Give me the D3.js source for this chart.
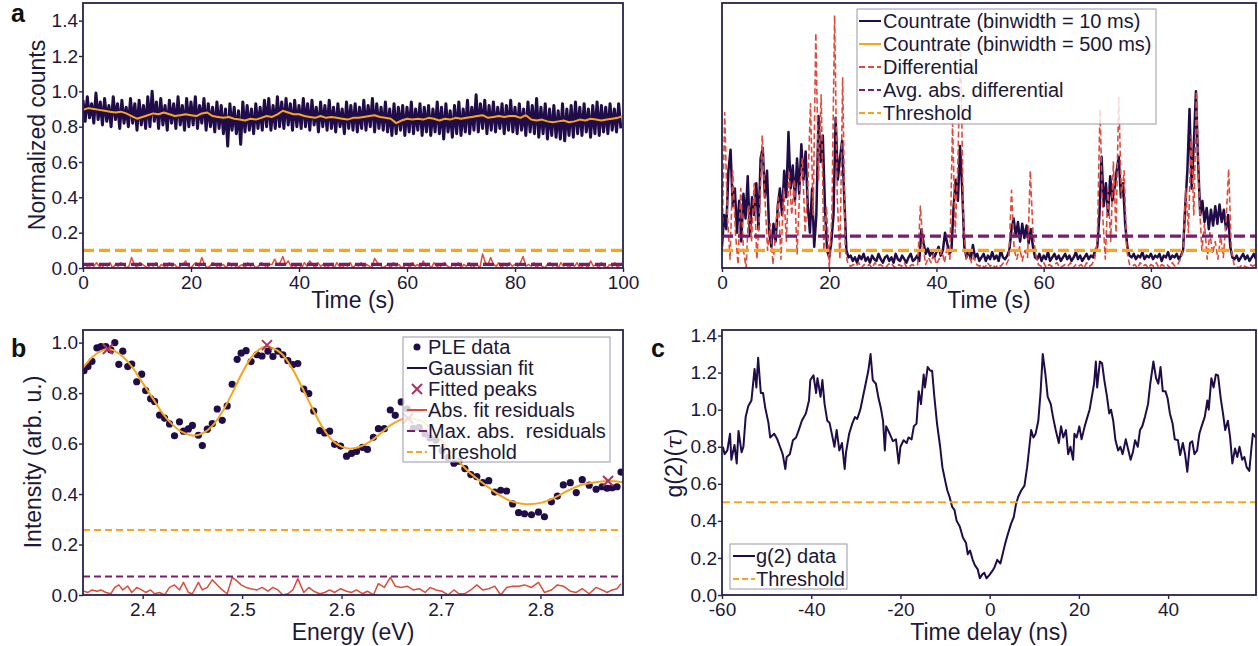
<!DOCTYPE html>
<html>
<head>
<meta charset="utf-8">
<script src="https://cdn.jsdelivr.net/npm/d3@7"></script>
<style>
  body { margin: 0; background: #fff; }
  svg { display: block; font-family: "Liberation Sans", Arial, sans-serif; }
</style>
</head>
<body>
<svg id="chart" width="1258" height="646"></svg>
<script>
/**
 * Blinking / PLE / g2 screening figure (panels a, b, c)
 */

// ---- Panel a (left): stable emitter, 10 ms bins sampled every 0.4 s ----
const stableCountStep = 0.4;
const stableCounts = [
  0.95,0.83,0.97,0.85,0.93,0.82,0.99,0.84,0.94,0.81,
  0.96,0.83,0.92,0.80,0.97,0.84,0.93,0.79,0.95,0.82,
  0.91,0.80,0.96,0.82,0.93,0.78,0.95,0.81,0.92,0.79,
  0.97,0.80,1.00,0.83,0.94,0.79,0.96,0.81,0.92,0.78,
  0.95,0.82,0.93,0.79,0.97,0.81,0.92,0.78,0.96,0.80,
  0.94,0.81,0.97,0.79,0.92,0.82,0.96,0.78,0.93,0.80,
  0.91,0.77,0.94,0.79,0.92,0.76,0.90,0.69,0.93,0.78,
  0.91,0.76,0.89,0.70,0.94,0.77,0.92,0.78,0.90,0.76,
  0.93,0.79,0.91,0.78,0.95,0.80,0.96,0.78,0.92,0.79,
  0.97,0.80,0.94,0.79,0.96,0.81,0.93,0.78,0.95,0.80,
  0.92,0.79,0.96,0.80,0.93,0.78,0.95,0.81,0.91,0.77,
  0.94,0.80,0.92,0.78,0.95,0.79,0.91,0.77,0.93,0.80,
  0.90,0.76,0.94,0.79,0.92,0.78,0.93,0.77,0.91,0.79,
  0.95,0.78,0.92,0.80,0.96,0.77,0.93,0.79,0.91,0.78,
  0.94,0.77,0.90,0.75,0.93,0.76,0.91,0.78,0.92,0.75,
  0.91,0.77,0.94,0.76,0.90,0.78,0.93,0.75,0.91,0.77,
  0.92,0.75,0.90,0.77,0.94,0.76,0.91,0.73,0.93,0.77,
  0.89,0.74,0.92,0.76,0.94,0.75,0.90,0.77,0.95,0.76,
  0.91,0.78,0.98,0.77,0.93,0.79,0.95,0.76,0.92,0.78,
  0.94,0.77,0.91,0.79,0.93,0.76,0.92,0.78,0.95,0.77,
  0.91,0.76,0.93,0.78,0.90,0.75,0.94,0.77,0.92,0.76,
  0.96,0.74,0.91,0.76,0.93,0.73,0.90,0.75,0.92,0.74,
  0.89,0.73,0.93,0.72,0.90,0.75,0.92,0.74,0.94,0.76,
  0.91,0.75,0.93,0.77,0.90,0.74,0.92,0.76,0.94,0.75,
  0.92,0.77,0.91,0.76,0.93,0.78,0.90,0.77,0.93,0.79
];
// 500 ms bins, plotted every 1 s
const stableSmoothStep = 1;
const stableSmooth = [
  0.895,0.905,0.900,0.895,0.890,0.885,0.880,0.885,0.875,0.860,0.845,0.855,0.865,0.875,0.870,0.880,0.870,0.860,0.865,0.870,
  0.865,0.860,0.875,0.880,0.860,0.855,0.850,0.855,0.845,0.840,0.835,0.845,0.840,0.850,0.860,0.855,0.870,0.890,0.880,0.870,
  0.870,0.860,0.855,0.850,0.860,0.850,0.855,0.850,0.845,0.840,0.850,0.850,0.855,0.860,0.865,0.855,0.850,0.845,0.820,0.835,
  0.845,0.840,0.845,0.840,0.850,0.845,0.835,0.845,0.840,0.850,0.845,0.850,0.855,0.860,0.865,0.850,0.855,0.860,0.855,0.860,
  0.860,0.850,0.865,0.840,0.835,0.840,0.830,0.825,0.830,0.835,0.825,0.830,0.840,0.835,0.845,0.840,0.835,0.840,0.845,0.850,0.860
];
const stableDiffStep = 0.5;
const stableDiff = [
  0.01,0.02,0.00,0.02,0.01,0.03,0.01,0.00,0.02,0.01,0.03,0.00,0.02,0.01,0.03,0.02,0.00,0.01,0.06,0.02,
  0.00,0.03,0.02,0.01,0.00,0.02,0.01,0.03,0.00,0.02,0.01,0.00,0.03,0.01,0.02,0.00,0.01,0.02,0.04,0.01,
  0.00,0.02,0.03,0.01,0.06,0.02,0.00,0.01,0.03,0.02,0.00,0.01,0.02,0.00,0.03,0.01,0.02,0.00,0.01,0.02,
  0.00,0.03,0.01,0.02,0.00,0.01,0.03,0.02,0.00,0.02,0.02,0.05,0.02,0.03,0.065,0.02,0.04,0.01,0.00,0.01,
  0.02,0.00,0.03,0.01,0.04,0.02,0.00,0.03,0.01,0.02,0.00,0.01,0.02,0.00,0.03,0.01,0.00,0.02,0.01,0.03,
  0.00,0.02,0.01,0.03,0.00,0.02,0.01,0.00,0.055,0.03,0.02,0.00,0.01,0.02,0.00,0.03,0.01,0.02,0.00,0.01,
  0.02,0.00,0.03,0.01,0.02,0.00,0.04,0.01,0.02,0.00,0.03,0.01,0.00,0.02,0.03,0.01,0.00,0.02,0.01,0.03,
  0.00,0.02,0.01,0.03,0.00,0.01,0.02,0.00,0.08,0.03,0.02,0.06,0.02,0.01,0.03,0.00,0.02,0.01,0.03,0.01,
  0.02,0.01,0.03,0.065,0.01,0.02,0.01,0.03,0.00,0.02,0.01,0.00,0.02,0.03,0.01,0.02,0.00,0.03,0.01,0.02,
  0.00,0.02,0.01,0.03,0.00,0.01,0.02,0.00,0.04,0.01,0.02,0.00,0.03,0.01,0.00,0.02,0.01,0.03,0.00,0.02
];
const stableAvgDiff = 0.021;
const stableThreshold = 0.1;

// ---- Panel a (right): blinking emitter ----
const blinkCountStep = 0.4;
const blinkCounts = [
  0.12,0.30,0.22,0.55,0.67,0.35,0.45,0.20,0.38,0.15,
  0.42,0.28,0.52,0.18,0.40,0.30,0.48,0.22,0.62,0.68,
  0.40,0.55,0.20,0.12,0.25,0.15,0.35,0.45,0.30,0.55,
  0.40,0.77,0.45,0.58,0.38,0.62,0.42,0.70,0.50,0.66,
  0.35,0.20,0.45,0.12,0.30,0.86,0.60,0.75,0.35,0.10,
  0.06,0.15,0.30,0.85,0.50,0.62,0.72,0.40,0.10,0.06,
  0.07,0.04,0.06,0.03,0.07,0.05,0.08,0.04,0.06,0.03,0.07,0.05,0.04,0.08,0.05,0.03,0.06,
  0.07,0.04,0.06,0.03,0.08,0.05,0.04,0.07,0.05,0.03,0.06,0.08,0.04,0.05,0.07,0.04,
  0.22,0.14,0.08,0.11,0.07,0.10,0.06,0.09,0.12,0.07,0.10,0.20,0.14,0.08,0.10,
  0.35,0.50,0.38,0.69,0.45,0.12,0.06,0.10,0.05,0.13,0.06,0.08,0.04,
  0.06,0.08,0.04,0.07,0.05,0.09,0.05,0.07,0.04,0.10,0.06,0.05,0.07,
  0.10,0.22,0.28,0.18,0.26,0.15,0.25,0.17,0.24,0.14,0.22,0.12,0.06,
  0.05,0.08,0.04,0.07,0.05,0.09,0.04,0.06,0.08,0.05,0.07,0.04,0.06,0.08,
  0.05,0.07,0.04,0.06,0.09,0.05,0.07,0.04,0.06,0.08,0.05,0.07,0.06,0.10,
  0.12,0.30,0.63,0.35,0.48,0.30,0.52,0.38,0.45,0.55,0.63,0.40,0.48,0.25,0.12,0.07,
  0.06,0.08,0.05,0.07,0.06,0.09,0.05,0.07,0.06,0.08,0.05,0.07,
  0.06,0.08,0.04,0.07,0.06,0.09,0.05,0.07,0.06,0.08,0.05,0.07,
  0.10,0.35,0.55,0.90,0.45,0.70,1.00,0.60,0.30,0.38,0.26,0.34,
  0.22,0.33,0.24,0.35,0.25,0.36,0.26,0.33,0.22,0.30,0.12,0.06,
  0.05,0.07,0.04,0.06,0.08,0.05,0.07,0.04,0.06,0.08,0.05
];
const blinkDiffStep = 0.5;
const blinkDiff = [
  0.10,0.88,0.30,0.05,0.55,0.20,0.02,0.45,0.10,0.00,0.35,0.15,0.48,0.05,0.30,0.75,0.40,0.10,0.25,0.02,
  0.20,0.40,0.05,0.45,0.15,0.55,0.30,0.50,0.08,0.45,0.62,0.20,0.45,0.93,0.30,1.33,0.50,0.98,0.10,0.35,
  0.00,0.30,1.43,0.40,0.05,1.08,0.10,0.02,0.01,0.02,
  0.01,0.03,0.00,0.02,0.01,0.02,0.00,0.03,0.01,0.02,0.01,0.00,0.02,0.03,0.01,0.00,0.02,0.01,0.03,0.00,0.01,0.02,0.01,0.02,
  0.35,0.12,0.02,0.06,0.03,0.08,0.02,0.05,0.10,0.03,0.12,0.05,0.82,0.20,0.60,1.29,0.30,0.05,0.10,0.03,0.06,0.02,0.01,
  0.02,0.00,0.03,0.01,0.02,0.00,0.02,0.01,0.03,0.02,0.05,
  0.44,0.10,0.05,0.12,0.04,0.10,0.06,0.55,0.20,0.08,0.02,
  0.01,0.03,0.00,0.02,0.01,0.02,0.03,0.00,0.01,0.02,0.01,0.03,0.00,0.02,0.01,0.02,0.00,0.03,0.01,0.02,0.05,
  0.15,0.90,0.30,0.05,0.45,0.15,0.60,0.20,0.97,0.40,0.55,0.10,0.02,
  0.01,0.02,0.00,0.03,0.01,0.02,0.00,0.02,0.01,0.03,0.00,0.02,0.01,0.02,0.00,0.03,0.01,0.02,0.05,0.10,
  0.45,0.20,0.75,0.30,1.00,0.40,0.10,0.25,0.05,0.20,0.08,0.15,0.05,0.18,0.06,0.25,0.56,0.10,0.02,
  0.01,0.00,0.02,0.01,0.00,0.02,0.01,0.02
];
const blinkAvgDiff = 0.18;
const blinkThreshold = 0.1;

// ---- Panel b: PLE spectrum ----
const pleEnergy = [
  2.341,2.345,2.349,2.354,2.358,2.363,2.368,2.372,2.376,2.380,2.385,2.389,2.394,2.399,2.403,2.408,2.412,2.417,2.422,2.427,
  2.432,2.437,2.441,2.446,2.450,2.456,2.460,2.465,2.470,2.475,2.480,2.485,2.490,2.495,2.499,2.504,2.509,2.515,2.520,2.526,
  2.531,2.536,2.541,2.546,2.551,2.556,2.562,2.567,2.572,2.578,2.583,2.588,2.593,2.599,2.605,2.610,2.615,2.621,2.626,2.632,
  2.637,2.643,2.649,2.654,2.660,2.666,2.672,2.678,2.684,2.689,2.695,2.701,2.707,2.713,2.718,2.724,2.730,2.736,2.742,2.748,
  2.754,2.760,2.766,2.772,2.778,2.784,2.791,2.798,2.804,2.811,2.817,2.823,2.830,2.836,2.842,2.849,2.856,2.862,2.867,2.872,
  2.877,2.881
];
const pleIntensity = [
  0.889,0.905,0.926,0.979,0.984,0.984,0.971,1.000,0.914,0.966,0.905,0.915,0.845,0.875,0.810,0.778,0.767,0.713,0.701,0.678,
  0.631,0.686,0.649,0.658,0.672,0.633,0.592,0.657,0.679,0.737,0.692,0.749,0.835,0.934,0.958,0.968,0.925,0.952,0.947,0.966,
  0.945,0.966,0.952,0.929,0.913,0.917,0.816,0.798,0.729,0.651,0.642,0.649,0.597,0.590,0.550,0.561,0.569,0.585,0.577,0.625,
  0.659,0.659,0.733,0.712,0.765,0.738,0.660,0.664,0.638,0.622,0.614,0.572,0.545,0.522,0.530,0.501,0.477,0.469,0.445,0.453,
  0.408,0.415,0.412,0.361,0.326,0.322,0.318,0.328,0.310,0.369,0.392,0.436,0.445,0.406,0.457,0.435,0.419,0.429,0.423,0.425,
  0.429,0.487
];
const pleResiduals = [
  0.015,0.01,0.02,0.015,0.02,0.01,0.005,0.03,0.04,0.02,
  0.035,0.01,0.03,0.02,0.01,0.02,0.005,0.01,0.0,0.03,
  0.04,0.02,0.05,0.01,0.005,0.05,0.02,0.03,0.06,0.04,
  0.02,0.005,0.07,0.055,0.04,0.03,0.025,0.02,0.03,0.015,
  0.03,0.02,0.0,0.005,0.02,0.065,0.01,0.03,0.015,0.005,
  0.01,0.02,0.01,0.025,0.015,0.01,0.02,0.005,0.015,0.0,
  0.045,0.03,0.07,0.035,0.03,0.035,0.02,0.025,0.01,0.03,
  0.02,0.015,0.0,0.02,0.005,0.005,0.02,0.04,0.02,0.025,
  0.035,0.0,0.03,0.035,0.035,0.04,0.03,0.05,0.01,0.02,
  0.04,0.035,0.015,0.01,0.025,0.005,0.03,0.02,0.01,0.02,
  0.025,0.045
];
const fitEnergy = [
  2.34,2.35,2.36,2.365,2.37,2.38,2.39,2.40,2.41,2.42,2.43,2.44,2.45,2.46,2.47,2.48,2.49,2.50,2.51,2.52,
  2.525,2.53,2.54,2.55,2.56,2.57,2.58,2.59,2.60,2.61,2.62,2.63,2.64,2.65,2.665,2.68,2.69,2.70,2.71,2.72,
  2.73,2.74,2.75,2.76,2.77,2.785,2.80,2.81,2.82,2.83,2.84,2.855,2.87,2.883
];
const fitIntensity = [
  0.90,0.945,0.97,0.975,0.97,0.945,0.90,0.84,0.78,0.72,0.675,0.645,0.632,0.64,0.67,0.725,0.80,0.88,0.945,0.98,
  0.985,0.98,0.955,0.90,0.825,0.745,0.67,0.615,0.588,0.58,0.59,0.612,0.643,0.675,0.70,0.69,0.66,0.615,0.565,0.52,
  0.48,0.45,0.42,0.393,0.372,0.36,0.365,0.378,0.398,0.418,0.435,0.447,0.452,0.447
];
const peakEnergy = [2.365, 2.525, 2.667, 2.868];
const peakIntensity = [0.975, 0.99, 0.70, 0.452];
const pleMaxResidual = 0.073;
const pleThreshold = 0.258;

// ---- Panel c: second-order correlation ----
const g2Delay = [
  -59.8,-59.4,-58.8,-58.2,-57.9,-57.2,-56.7,-56.3,-55.6,-55.2,-54.7,-54.1,-53.4,-52.7,-52.3,-51.9,-51.3,-50.8,-50.3,-49.6,
  -49.2,-48.3,-47.6,-47.0,-46.4,-45.8,-45.5,-44.8,-44.1,-43.4,-42.8,-42.1,-41.2,-40.5,-40.2,-39.5,-38.9,-38.6,-37.9,-37.5,
  -37.0,-36.4,-35.9,-35.3,-34.8,-34.3,-33.7,-33.1,-32.5,-32.2,-31.5,-30.8,-30.2,-29.7,-29.0,-28.4,-27.8,-27.2,-26.7,-26.2,
  -25.5,-24.9,-24.4,-23.9,-23.5,-23.2,-22.4,-21.7,-21.0,-20.4,-20.0,-19.3,-18.6,-18.2,-17.5,-17.0,-16.4,-15.9,-15.4,-14.8,
  -14.5,-13.9,-13.3,-12.9,-12.4,-11.8,-11.1,-10.6,-10.0,-9.5,-9.0,-8.4,-7.9,-7.4,-6.7,-6.0,-5.3,-4.9,-4.4,-3.8,
  -3.3,-2.7,-2.2,-1.7,-1.2,-0.7,0.0,0.6,1.1,1.7,2.4,2.9,3.5,4.1,4.8,5.4,5.9,6.4,7.1,7.8,
  8.4,8.9,9.3,9.8,10.3,10.9,11.4,11.9,12.5,13.0,13.7,14.2,14.8,15.5,16.0,16.5,17.1,17.6,18.1,18.7,
  19.0,19.5,20.1,20.6,21.3,21.9,22.4,22.9,23.4,23.8,24.1,24.7,25.2,25.7,26.3,26.8,27.2,27.7,28.2,28.8,
  29.3,29.8,30.5,31.1,31.6,32.1,32.6,33.2,33.7,34.2,34.8,35.5,36.0,36.7,37.3,37.8,38.3,38.8,39.4,39.9,
  40.4,41.0,41.5,42.2,42.7,43.3,43.8,44.3,44.9,45.4,45.9,46.5,47.0,47.5,48.2,48.8,49.1,49.7,50.2,50.7,
  51.2,51.8,52.3,52.8,53.4,53.9,54.4,55.0,55.5,56.0,56.6,57.1,57.6,58.2,58.7,59.0,59.6
];
const g2Value = [
  0.80,0.76,0.78,0.87,0.73,0.81,0.71,0.885,0.77,0.80,0.96,1.02,1.05,1.22,1.12,1.28,1.09,1.09,1.01,0.93,
  0.85,0.87,0.84,0.80,0.76,0.68,0.745,0.76,0.835,0.85,0.89,0.94,0.98,1.05,1.16,1.185,1.09,1.17,1.07,1.16,
  1.03,0.94,0.93,0.86,0.80,0.89,0.78,0.82,0.68,0.77,0.87,0.925,0.96,0.95,1.0,1.07,1.14,1.21,1.30,1.16,
  1.14,1.06,1.01,0.94,0.78,0.91,0.87,0.83,0.84,0.71,0.80,0.835,0.82,0.85,0.84,0.91,0.925,1.10,1.03,1.19,
  1.12,1.23,1.21,1.21,1.07,0.925,0.80,0.69,0.62,0.565,0.53,0.475,0.46,0.40,0.37,0.31,0.28,0.22,0.24,0.19,
  0.16,0.14,0.09,0.11,0.12,0.09,0.11,0.13,0.15,0.19,0.17,0.22,0.28,0.33,0.385,0.42,0.49,0.53,0.565,0.59,
  0.69,0.80,0.89,0.85,0.87,0.94,1.09,1.30,1.19,1.07,1.03,0.96,0.89,0.82,0.91,0.85,0.89,0.76,0.80,0.73,
  0.87,0.85,0.91,0.84,0.91,0.96,1.0,1.07,1.14,1.26,1.12,1.26,1.25,1.16,1.07,0.98,1.0,0.94,0.835,0.78,
  0.80,0.76,0.84,0.78,0.73,0.77,0.835,0.80,0.89,0.91,0.96,1.03,1.14,1.26,1.17,1.14,1.23,1.10,1.10,1.06,
  0.98,0.925,0.84,0.835,0.755,0.82,0.76,0.665,0.82,0.83,0.76,0.78,0.87,0.91,0.96,1.05,1.0,1.17,1.12,1.19,
  1.185,1.06,0.98,0.89,0.94,0.85,0.71,0.79,0.745,0.80,0.73,0.745,0.69,0.67,0.80,0.87,0.85
];
const g2Threshold = 0.5;

// ---- Tick values ----
const countTicksY = [0, 0.2, 0.4, 0.6, 0.8, 1.0, 1.2, 1.4];
const timeTicksLeft = [0, 20, 40, 60, 80, 100];
const timeTicksRight = [0, 20, 40, 60, 80];
const energyTicks = [2.4, 2.5, 2.6, 2.7, 2.8];
const intensityTicks = [0, 0.2, 0.4, 0.6, 0.8, 1.0];
const delayTicks = [-60, -40, -20, 0, 20, 40];
const g2Ticks = [0, 0.2, 0.4, 0.6, 0.8, 1.0, 1.2, 1.4];

// ---- Styling ----
const COLORS = {
    dark: '#1f0c48',
    orange: '#f9a51b',
    red: '#e04a3b',
    purple: '#7b1d6c',
    cross: '#b0305e',
    text: '#1b1838',
    frame: '#27224a'
};
const TICK_FONT = 19;
const TITLE_FONT = 23;
const LEGEND_FONT = 20;

const svg = d3.select('#chart');

/**
 * Build a panel: scales, clip path and axes
 */
function makePanel(id, box, xDomain, yDomain, opts) {
    const x = d3.scaleLinear().domain(xDomain).range([box.left, box.right]);
    const y = d3.scaleLinear().domain(yDomain).range([box.bottom, box.top]);

    svg.append('clipPath').attr('id', 'clip-' + id)
        .append('rect')
        .attr('x', box.left).attr('y', box.top)
        .attr('width', box.right - box.left).attr('height', box.bottom - box.top);

    const g = svg.append('g').attr('class', 'panel-' + id);
    const plot = g.append('g').attr('clip-path', `url(#clip-${id})`);

    // bottom axis (plain hyphen for negatives, like the original)
    const xAxis = g.append('g')
        .attr('transform', `translate(0,${box.bottom})`)
        .call(d3.axisBottom(x).tickValues(opts.xTicks)
            .tickFormat(opts.xFormat || (d => String(d)))
            .tickSize(4).tickPadding(4));
    styleAxis(xAxis);

    // left axis (panel a right has none)
    if (opts.yTicks) {
        const yAxis = g.append('g')
            .attr('transform', `translate(${box.left},0)`)
            .call(d3.axisLeft(y).tickValues(opts.yTicks)
                .tickFormat(d3.format('.1f'))
                .tickSize(4).tickPadding(1));
        styleAxis(yAxis);
    }

    return {g, plot, x, y, box};
}

function styleAxis(axis) {
    axis.select('.domain').remove();
    axis.selectAll('.tick line').attr('stroke', COLORS.frame).attr('stroke-width', 1.4);
    axis.selectAll('.tick text')
        .attr('fill', COLORS.text)
        .attr('font-size', TICK_FONT + 'px')
        .attr('font-family', '"Liberation Sans", Arial, sans-serif');
}

// frame drawn last so it sits on top of the data
function drawFrame(panel) {
    const b = panel.box;
    panel.g.append('rect')
        .attr('x', b.left).attr('y', b.top)
        .attr('width', b.right - b.left).attr('height', b.bottom - b.top)
        .attr('fill', 'none')
        .attr('stroke', COLORS.frame)
        .attr('stroke-width', 1.8);
}

function seriesFromStep(values, step, offset) {
    return values.map((v, i) => ({x: offset + i * step, y: v}));
}

function drawLine(panel, points, color, width, dash) {
    const line = d3.line().x(d => panel.x(d.x)).y(d => panel.y(d.y));
    panel.plot.append('path')
        .datum(points)
        .attr('d', line)
        .attr('fill', 'none')
        .attr('stroke', color)
        .attr('stroke-width', width)
        .attr('stroke-linejoin', 'round')
        .attr('stroke-dasharray', dash || null);
}

function drawHLine(panel, value, color, width, dash) {
    const [x0, x1] = panel.x.domain();
    panel.plot.append('line')
        .attr('x1', panel.x(x0)).attr('x2', panel.x(x1))
        .attr('y1', panel.y(value)).attr('y2', panel.y(value))
        .attr('stroke', color)
        .attr('stroke-width', width)
        .attr('stroke-dasharray', dash);
}

/**
 * Legend box with line / dash / dot / cross swatches
 */
function drawLegend(box, items, opts) {
    const g = svg.append('g');
    g.append('rect')
        .attr('x', box.x).attr('y', box.y)
        .attr('width', box.w).attr('height', box.h)
        .attr('fill', '#fff').attr('fill-opacity', 0.8)
        .attr('stroke', '#9a98a8').attr('stroke-width', 1);

    items.forEach((item, i) => {
        const cy = opts.firstY + i * opts.rowH;
        const [s0, s1] = opts.swatch;
        const mid = (s0 + s1) / 2;
        if (item.kind === 'line' || item.kind === 'dash') {
            g.append('line')
                .attr('x1', s0).attr('x2', s1).attr('y1', cy).attr('y2', cy)
                .attr('stroke', item.color)
                .attr('stroke-width', item.width || 2)
                .attr('stroke-dasharray', item.kind === 'dash' ? (item.dash || '6,3') : null);
        } else if (item.kind === 'dot') {
            g.append('circle').attr('cx', mid).attr('cy', cy).attr('r', 3.5).attr('fill', item.color);
        } else if (item.kind === 'cross') {
            g.append('path')
                .attr('d', `M${mid - 5},${cy - 5}L${mid + 5},${cy + 5}M${mid - 5},${cy + 5}L${mid + 5},${cy - 5}`)
                .attr('stroke', item.color).attr('stroke-width', 2);
        }
        g.append('text')
            .attr('x', opts.textX).attr('y', cy)
            .attr('dy', '0.35em')
            .attr('fill', COLORS.text)
            .attr('font-size', LEGEND_FONT + 'px')
            .attr('xml:space', 'preserve')
            .text(item.label);
    });
}

function axisTitle(text, x, y, rotate) {
    const t = svg.append('text')
        .attr('text-anchor', 'middle')
        .attr('fill', COLORS.text)
        .attr('font-size', TITLE_FONT + 'px')
        .attr('transform', rotate ? `translate(${x},${y}) rotate(-90)` : `translate(${x},${y})`);
    if (typeof text === 'string') t.text(text);
    return t;
}

function panelLetter(letter, x, y) {
    svg.append('text')
        .attr('x', x).attr('y', y)
        .attr('fill', '#111')
        .attr('font-size', '25px')
        .attr('font-weight', 'bold')
        .text(letter);
}

// ================= Panel a (left) =================
const pA1 = makePanel('a1', {left: 83, right: 623, top: 3, bottom: 268}, [0, 100], [0, 1.5],
    {xTicks: timeTicksLeft, yTicks: countTicksY});
drawLine(pA1, seriesFromStep(stableCounts, stableCountStep, 0), COLORS.dark, 3);
drawLine(pA1, seriesFromStep(stableSmooth, stableSmoothStep, 0), COLORS.orange, 2);
drawLine(pA1, seriesFromStep(stableDiff, stableDiffStep, 0), COLORS.red, 1.5);
drawHLine(pA1, stableAvgDiff, COLORS.purple, 3.2, '11,5');
drawHLine(pA1, stableThreshold, COLORS.orange, 3.2, '11,5');
drawFrame(pA1);
axisTitle('Normalized counts', 45, 135, true);
axisTitle('Time (s)', 353, 308, false);
panelLetter('a', 11, 22);

// ================= Panel a (right) =================
const pA2 = makePanel('a2', {left: 722, right: 1256, top: 3, bottom: 268}, [0, 99.6], [0, 1.5],
    {xTicks: timeTicksRight});
drawLine(pA2, seriesFromStep(blinkCounts, blinkCountStep, 0), COLORS.dark, 2.5);
drawLine(pA2, seriesFromStep(blinkDiff, blinkDiffStep, 0), COLORS.red, 1.6, '6,3');
drawHLine(pA2, blinkAvgDiff, COLORS.purple, 3.2, '11,5');
drawHLine(pA2, blinkThreshold, COLORS.orange, 3.2, '11,5');
drawFrame(pA2);
axisTitle('Time (s)', 989, 308, false);
drawLegend({x: 857, y: 9, w: 299, h: 115}, [
    {label: 'Countrate (binwidth = 10 ms)', kind: 'line', color: COLORS.dark},
    {label: 'Countrate (binwidth = 500 ms)', kind: 'line', color: COLORS.orange},
    {label: 'Differential', kind: 'dash', color: COLORS.red},
    {label: 'Avg. abs. differential', kind: 'dash', color: COLORS.purple},
    {label: 'Threshold', kind: 'dash', color: COLORS.orange}
], {firstY: 21, rowH: 23, swatch: [859, 881], textX: 883});

// ================= Panel b =================
const pB = makePanel('b', {left: 83, right: 623, top: 330, bottom: 595}, [2.34, 2.883], [0, 1.05],
    {xTicks: energyTicks, yTicks: intensityTicks, xFormat: d3.format('.1f')});
const plePoints = pleEnergy.map((e, i) => ({x: e, y: pleIntensity[i]}));
pB.plot.selectAll('circle.ple')
    .data(plePoints)
    .enter()
    .append('circle')
    .attr('class', 'ple')
    .attr('cx', d => pB.x(d.x))
    .attr('cy', d => pB.y(d.y))
    .attr('r', 3.6)
    .attr('fill', COLORS.dark);
const fitLine = d3.line()
    .x(d => pB.x(d.x)).y(d => pB.y(d.y))
    .curve(d3.curveCatmullRom);
pB.plot.append('path')
    .datum(fitEnergy.map((e, i) => ({x: e, y: fitIntensity[i]})))
    .attr('d', fitLine)
    .attr('fill', 'none')
    .attr('stroke', COLORS.orange)
    .attr('stroke-width', 2);
pB.plot.selectAll('path.peak')
    .data(peakEnergy.map((e, i) => ({x: e, y: peakIntensity[i]})))
    .enter()
    .append('path')
    .attr('class', 'peak')
    .attr('d', d => {
        const cx = pB.x(d.x), cy = pB.y(d.y);
        return `M${cx - 5},${cy - 5}L${cx + 5},${cy + 5}M${cx - 5},${cy + 5}L${cx + 5},${cy - 5}`;
    })
    .attr('stroke', COLORS.cross)
    .attr('stroke-width', 2);
drawLine(pB, pleEnergy.map((e, i) => ({x: e, y: pleResiduals[i]})), COLORS.red, 1.5);
drawHLine(pB, pleMaxResidual, COLORS.purple, 2, '7,4');
drawHLine(pB, pleThreshold, COLORS.orange, 2, '7,4');
drawFrame(pB);
axisTitle('Intensity (arb. u.)', 41, 462, true);
axisTitle('Energy (eV)', 353, 640, false);
panelLetter('b', 11, 357);
drawLegend({x: 403, y: 337, w: 207, h: 125}, [
    {label: 'PLE data', kind: 'dot', color: COLORS.dark},
    {label: 'Gaussian fit', kind: 'line', color: COLORS.dark},
    {label: 'Fitted peaks', kind: 'cross', color: COLORS.cross},
    {label: 'Abs. fit residuals', kind: 'line', color: COLORS.red},
    {label: 'Max. abs.  residuals', kind: 'dash', color: COLORS.purple, dash: '8,4'},
    {label: 'Threshold', kind: 'dash', color: COLORS.orange}
], {firstY: 347, rowH: 21, swatch: [407, 427], textX: 428});

// ================= Panel c =================
const pC = makePanel('c', {left: 722, right: 1256, top: 330, bottom: 595}, [-60, 59.7], [0, 1.43],
    {xTicks: delayTicks, yTicks: g2Ticks});
drawLine(pC, g2Delay.map((t, i) => ({x: t, y: g2Value[i]})), COLORS.dark, 2);
drawHLine(pC, g2Threshold, COLORS.orange, 2, '8,4');
drawFrame(pC);
const g2Title = axisTitle(null, 682, 463, true);
g2Title.append('tspan').text('g(2)(');
g2Title.append('tspan').attr('font-style', 'italic').attr('font-family', '"DejaVu Serif", serif').text('τ');
g2Title.append('tspan').text(')');
axisTitle('Time delay (ns)', 989, 640, false);
panelLetter('c', 651, 357);
drawLegend({x: 730, y: 544, w: 117, h: 45}, [
    {label: 'g(2) data', kind: 'line', color: COLORS.dark},
    {label: 'Threshold', kind: 'dash', color: COLORS.orange}
], {firstY: 556, rowH: 23, swatch: [733, 755], textX: 756});
</script>
</body>
</html>
